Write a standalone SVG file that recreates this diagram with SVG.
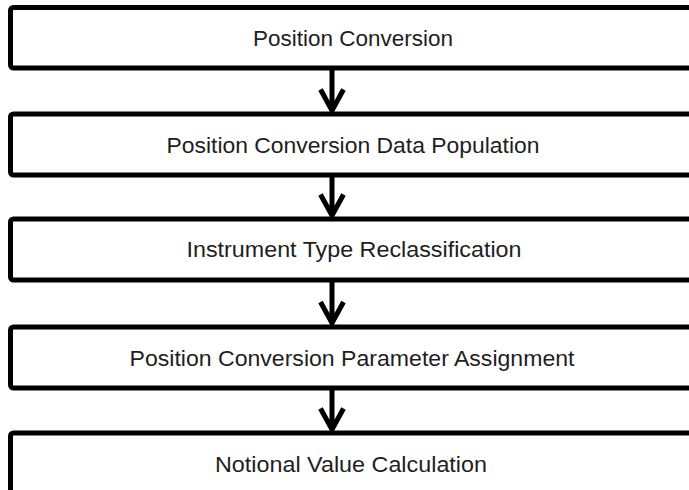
<svg xmlns="http://www.w3.org/2000/svg" width="689" height="490" viewBox="0 0 689 490">
<style>
.box{fill:#fff;stroke:#000;stroke-width:5}
.lbl{font-family:"Liberation Sans",Arial,sans-serif;font-size:22.5px;fill:#1e1e1e;text-anchor:middle}
.con{fill:none;stroke:#000;stroke-width:5}
</style>
<rect width="689" height="490" fill="#fff"/>
<g id="n1"><rect class="box" x="10.5" y="7.5" width="700" height="60.5" rx="3"/><text class="lbl" x="353" y="45.5" textLength="200" lengthAdjust="spacingAndGlyphs">Position Conversion</text></g>
<g id="n2"><rect class="box" x="10.5" y="114" width="700" height="61" rx="3"/><text class="lbl" x="353" y="152.5" textLength="373" lengthAdjust="spacingAndGlyphs">Position Conversion Data Population</text></g>
<g id="n3"><rect class="box" x="10.5" y="219" width="700" height="61" rx="3"/><text class="lbl" x="354" y="257" textLength="335" lengthAdjust="spacingAndGlyphs">Instrument Type Reclassification</text></g>
<g id="n4"><rect class="box" x="10.5" y="327" width="700" height="61" rx="3"/><text class="lbl" x="352" y="366" textLength="445" lengthAdjust="spacingAndGlyphs">Position Conversion Parameter Assignment</text></g>
<g id="n5"><rect class="box" x="10.5" y="433" width="700" height="70" rx="3"/><text class="lbl" x="351" y="471.5" textLength="272" lengthAdjust="spacingAndGlyphs">Notional Value Calculation</text></g>
<g id="connectors">
<path class="con" d="M332 68V110M320.5 89.5L332 110.5L343.5 89.5"/>
<path class="con" d="M332 175V215M320.5 194.5L332 215.5L343.5 194.5"/>
<path class="con" d="M332 280V323M320.5 302L332 323L343.5 302"/>
<path class="con" d="M332 388V429M320.5 408.5L332 429.5L343.5 408.5"/>
</g>
</svg>
